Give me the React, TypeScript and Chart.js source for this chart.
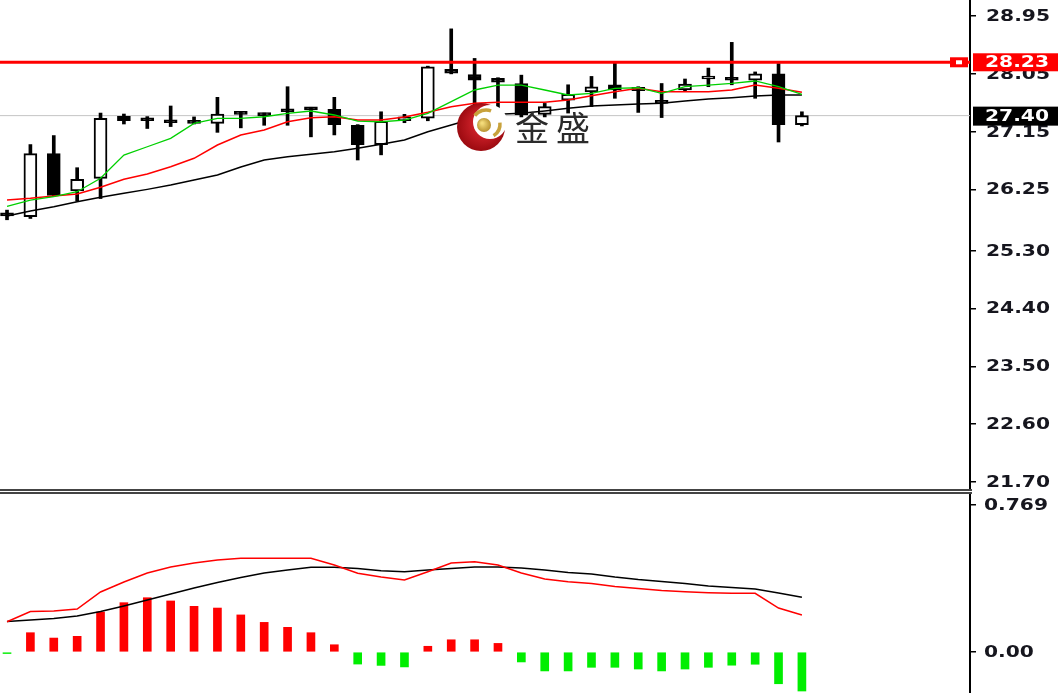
import { useEffect, useRef } from 'react';
import { Chart, registerables } from 'chart.js';
Chart.register(...registerables);

// ---------- data ----------
const OPEN = [25.885, 25.83, 26.81, 26.23, 26.425, 27.39, 27.33, 27.32, 27.31, 27.28, 27.45, 27.44, 27.50, 27.51, 27.50, 27.25, 26.95, 27.32, 27.36, 28.12, 28.04, 27.98, 27.90, 27.42, 27.64, 27.77, 27.88, 27.84, 27.60, 27.80, 27.97, 27.96, 27.95, 28.05, 27.26];
const HIGH = [25.93, 26.95, 27.09, 26.59, 27.44, 27.425, 27.385, 27.55, 27.38, 27.685, 27.46, 27.44, 27.85, 27.53, 27.685, 27.26, 27.46, 27.42, 28.17, 28.75, 28.29, 27.99, 28.03, 27.59, 27.88, 28.01, 28.23, 27.85, 27.90, 27.97, 28.14, 28.54, 28.08, 28.21, 27.46];
const LOW = [25.78, 25.80, 26.14, 26.07, 26.11, 27.27, 27.20, 27.23, 27.27, 27.14, 27.21, 27.25, 27.25, 27.07, 27.10, 26.71, 26.79, 27.29, 27.32, 28.05, 27.33, 27.38, 27.38, 27.38, 27.44, 27.54, 27.67, 27.45, 27.37, 27.78, 27.85, 27.88, 27.67, 26.99, 27.24];
const CLOSE = [25.84, 26.81, 26.16, 26.41, 27.36, 27.32, 27.32, 27.29, 27.28, 27.425, 27.42, 27.40, 27.46, 27.49, 27.26, 26.95, 27.31, 27.38, 28.16, 28.06, 27.95, 27.92, 27.41, 27.54, 27.73, 27.85, 27.80, 27.79, 27.59, 27.89, 27.99, 27.95, 28.05, 27.26, 27.40];

const MA_GREEN = [25.99, 26.087, 26.14, 26.216, 26.425, 26.787, 26.916, 27.047, 27.28, 27.358, 27.358, 27.383, 27.436, 27.472, 27.41, 27.316, 27.305, 27.33, 27.436, 27.617, 27.799, 27.876, 27.876, 27.799, 27.721, 27.747, 27.825, 27.834, 27.747, 27.85, 27.876, 27.903, 27.939, 27.85, 27.732];
const MA_RED = [26.087, 26.113, 26.149, 26.18, 26.285, 26.409, 26.492, 26.605, 26.736, 26.943, 27.098, 27.176, 27.305, 27.368, 27.383, 27.332, 27.332, 27.378, 27.452, 27.539, 27.592, 27.607, 27.607, 27.607, 27.643, 27.71, 27.772, 27.825, 27.772, 27.772, 27.772, 27.799, 27.876, 27.825, 27.763];
const MA_BLACK = [25.838, 25.916, 25.983, 26.06, 26.129, 26.191, 26.253, 26.32, 26.398, 26.476, 26.6, 26.709, 26.761, 26.798, 26.839, 26.891, 26.954, 27.02, 27.15, 27.254, 27.358, 27.42, 27.436, 27.472, 27.514, 27.55, 27.565, 27.581, 27.592, 27.627, 27.659, 27.679, 27.705, 27.721, 27.721];

const MACD_HIST = [-0.008, 0.101, 0.073, 0.082, 0.209, 0.258, 0.284, 0.267, 0.239, 0.230, 0.194, 0.155, 0.129, 0.101, 0.038, -0.063, -0.070, -0.078, 0.030, 0.064, 0.064, 0.045, -0.052, -0.099, -0.099, -0.080, -0.080, -0.089, -0.099, -0.089, -0.080, -0.069, -0.064, -0.166, -0.204];
const MACD_DIF = [0.158, 0.212, 0.214, 0.225, 0.314, 0.366, 0.413, 0.445, 0.465, 0.481, 0.490, 0.490, 0.490, 0.490, 0.455, 0.412, 0.392, 0.377, 0.420, 0.465, 0.472, 0.455, 0.413, 0.382, 0.368, 0.358, 0.343, 0.332, 0.322, 0.315, 0.310, 0.307, 0.307, 0.230, 0.194];
const MACD_DEA = [0.160, 0.167, 0.175, 0.188, 0.212, 0.241, 0.272, 0.303, 0.335, 0.364, 0.390, 0.413, 0.429, 0.443, 0.443, 0.437, 0.425, 0.420, 0.429, 0.437, 0.445, 0.445, 0.439, 0.429, 0.416, 0.408, 0.392, 0.379, 0.369, 0.358, 0.345, 0.337, 0.330, 0.309, 0.286];

const PRICE_TICKS = ['28.95', '28.05', '27.15', '26.25', '25.30', '24.40', '23.50', '22.60', '21.70'];
const MACD_TICKS = ['0.769', '0.00'];
const RESIST_LEVEL = 28.23;
const LAST_PRICE = 27.40;
const PRICE_MIN = 21.576;
const PRICE_MAX = 29.199;
const MACD_MIN = -0.2144;
const MACD_MAX = 0.8265;
const X_MIN = -0.3;
const X_MAX = 41.19;
const WATERMARK = '金盛';

// ---------- helpers ----------
function drawAxisText(ctx: CanvasRenderingContext2D, text: string, x: number, y: number, color: string) {
  ctx.save();
  ctx.translate(x, y);
  ctx.scale(1.35, 1);
  ctx.font = 'bold 15px "DejaVu Sans"';
  ctx.textBaseline = 'middle';
  ctx.textAlign = 'left';
  ctx.fillStyle = color;
  ctx.fillText(text, 0, 1);
  ctx.restore();
}

const xScaleOpts = { type: 'linear' as const, min: X_MIN, max: X_MAX, display: false, offset: false };

function yScaleOpts(min: number, max: number, ticks: string[]) {
  return {
    type: 'linear' as const,
    position: 'right' as const,
    min,
    max,
    afterFit(s: any) { s.width = 88; s.paddingTop = 0; s.paddingBottom = 0; },
    afterBuildTicks(s: any) { s.ticks = ticks.map((t) => ({ value: parseFloat(t) })); },
    ticks: { display: false },
    grid: { drawOnChartArea: false, drawTicks: true, tickLength: 6, color: '#000', lineWidth: 1.5 },
    border: { display: true, color: '#000', width: 2 },
  };
}

const priceLabelsPlugin = {
  id: 'priceLabels',
  afterDraw(chart: any) {
    const ctx = chart.ctx as CanvasRenderingContext2D;
    const y = chart.scales.y;
    const a = chart.chartArea;
    PRICE_TICKS.forEach((t) => drawAxisText(ctx, t, a.right + 16, y.getPixelForValue(parseFloat(t)), '#16161e'));
    // resistance label
    const ry = y.getPixelForValue(RESIST_LEVEL);
    ctx.save();
    ctx.fillStyle = '#ff0000';
    ctx.fillRect(a.right + 3, ry - 9, 88, 18);
    ctx.fillRect(a.right - 20, ry - 5, 18, 10);
    ctx.fillStyle = '#ffffff';
    ctx.fillRect(a.right - 14, ry - 2, 6, 4);
    ctx.restore();
    drawAxisText(ctx, RESIST_LEVEL.toFixed(2), a.right + 15, ry, '#ffffff');
    // last price label
    const ly = y.getPixelForValue(LAST_PRICE);
    ctx.save();
    ctx.fillStyle = '#000000';
    ctx.fillRect(a.right + 3, ly - 9, 88, 19);
    ctx.restore();
    drawAxisText(ctx, LAST_PRICE.toFixed(2), a.right + 15, ly, '#ffffff');
  },
};

const logoPlugin = {
  id: 'logo',
  afterDatasetsDraw(chart: any) {
    const ctx = chart.ctx as CanvasRenderingContext2D;
    ctx.save();
    const cx = 481, cy = 127, r = 24;
    const g = ctx.createRadialGradient(cx + 8, cy - 8, 3, cx, cy, r);
    g.addColorStop(0, '#f0303a');
    g.addColorStop(1, '#9c0a10');
    ctx.fillStyle = g;
    ctx.beginPath();
    ctx.arc(cx, cy, r, 0, Math.PI * 2);
    ctx.fill();
    ctx.fillStyle = '#ffffff';
    ctx.beginPath();
    ctx.arc(cx + 9, cy - 5, 17, 0, Math.PI * 2);
    ctx.fill();
    const gg = ctx.createRadialGradient(cx + 1, cy - 4, 1, cx + 3, cy - 2, 8);
    gg.addColorStop(0, '#f3db7a');
    gg.addColorStop(1, '#b08a28');
    ctx.fillStyle = gg;
    ctx.beginPath();
    ctx.arc(cx + 3, cy - 2, 7, 0, Math.PI * 2);
    ctx.fill();
    ctx.strokeStyle = '#c8a23c';
    ctx.lineWidth = 3.5;
    ctx.beginPath();
    ctx.arc(cx + 5, cy - 3, 14, -2.5, -1.2);
    ctx.stroke();
    ctx.beginPath();
    ctx.arc(cx + 5, cy - 3, 14, -0.1, 1.0);
    ctx.stroke();
    ctx.font = '34px "Noto Sans CJK SC"';
    ctx.fillStyle = '#2b2b2b';
    ctx.textBaseline = 'middle';
    ctx.textAlign = 'left';
    [...WATERMARK].forEach((ch, i) => ctx.fillText(ch, 515 + i * 41, 128));
    ctx.restore();
  },
};

const macdLabelsPlugin = {
  id: 'macdLabels',
  afterDraw(chart: any) {
    const ctx = chart.ctx as CanvasRenderingContext2D;
    const y = chart.scales.y;
    const a = chart.chartArea;
    MACD_TICKS.forEach((t) => drawAxisText(ctx, t, a.right + 14, y.getPixelForValue(parseFloat(t)), '#16161e'));
  },
};

export default function App() {
  const mainRef = useRef<HTMLCanvasElement>(null);
  const macdRef = useRef<HTMLCanvasElement>(null);

  useEffect(() => {
    const idx = OPEN.map((_, i) => i);
    const lineDs = (vals: number[], color: string, width: number, order: number) => ({
      type: 'line' as const,
      data: vals.map((v, i) => ({ x: i, y: v })),
      borderColor: color,
      borderWidth: width,
      pointRadius: 0,
      tension: 0,
      order,
    });

    const main = new Chart(mainRef.current!, {
      type: 'line',
      data: {
        datasets: [
          {
            type: 'line',
            data: [{ x: X_MIN, y: LAST_PRICE }, { x: X_MAX, y: LAST_PRICE }],
            borderColor: '#c4c4c4',
            borderWidth: 1,
            pointRadius: 0,
            order: 10,
          },
          {
            type: 'bar',
            data: idx.map((i) => ({ x: i, y: [LOW[i], HIGH[i]] })),
            backgroundColor: '#000',
            barThickness: 3,
            grouped: false,
            order: 6,
          } as any,
          {
            type: 'bar',
            data: idx.map((i) => ({ x: i, y: [OPEN[i], CLOSE[i]] })),
            backgroundColor: idx.map((i) => (CLOSE[i] >= OPEN[i] ? '#ffffff' : '#000000')),
            borderColor: '#000',
            borderWidth: 2,
            borderSkipped: false,
            barThickness: 13,
            minBarLength: 3,
            grouped: false,
            order: 5,
          } as any,
          lineDs(MA_BLACK, '#000000', 1.5, 3),
          lineDs(MA_RED, '#ff0000', 1.5, 2),
          lineDs(MA_GREEN, '#00d000', 1.3, 1),
          {
            type: 'line',
            data: [{ x: X_MIN, y: RESIST_LEVEL }, { x: X_MAX, y: RESIST_LEVEL }],
            borderColor: '#ff0000',
            borderWidth: 3,
            pointRadius: 0,
            order: 0,
          },
        ],
      },
      options: {
        animation: false,
        responsive: false,
        layout: { padding: 0 },
        plugins: { legend: { display: false }, tooltip: { enabled: false } },
        scales: { x: xScaleOpts, y: yScaleOpts(PRICE_MIN, PRICE_MAX, PRICE_TICKS) as any },
      },
      plugins: [logoPlugin, priceLabelsPlugin],
    } as any);

    const macd = new Chart(macdRef.current!, {
      type: 'line',
      data: {
        datasets: [
          lineDs(MACD_DIF, '#ff0000', 1.5, 1),
          lineDs(MACD_DEA, '#000000', 1.5, 2),
          {
            type: 'bar',
            data: idx.map((i) => ({ x: i, y: MACD_HIST[i] })),
            backgroundColor: MACD_HIST.map((v) => (v >= 0 ? '#ff0000' : '#00ee00')),
            barThickness: 8,
            grouped: false,
            order: 3,
          } as any,
        ],
      },
      options: {
        animation: false,
        responsive: false,
        layout: { padding: 0 },
        plugins: { legend: { display: false }, tooltip: { enabled: false } },
        scales: { x: xScaleOpts, y: yScaleOpts(MACD_MIN, MACD_MAX, MACD_TICKS) as any },
      },
      plugins: [macdLabelsPlugin],
    } as any);

    return () => {
      main.destroy();
      macd.destroy();
    };
  }, []);

  return (
    <div style={{ position: 'absolute', left: 0, top: 0, width: 1058, height: 693, background: '#fff', overflow: 'hidden' }}>
      <canvas ref={mainRef} width={1058} height={490} style={{ position: 'absolute', left: 0, top: 0, display: 'block' }} />
      <div style={{ position: 'absolute', left: 0, top: 489, width: 972, height: 1, borderTop: '2px solid #444', borderBottom: '2px solid #444', background: '#fff' }} />
      <canvas ref={macdRef} width={1058} height={199} style={{ position: 'absolute', left: 0, top: 494, display: 'block' }} />
    </div>
  );
}
